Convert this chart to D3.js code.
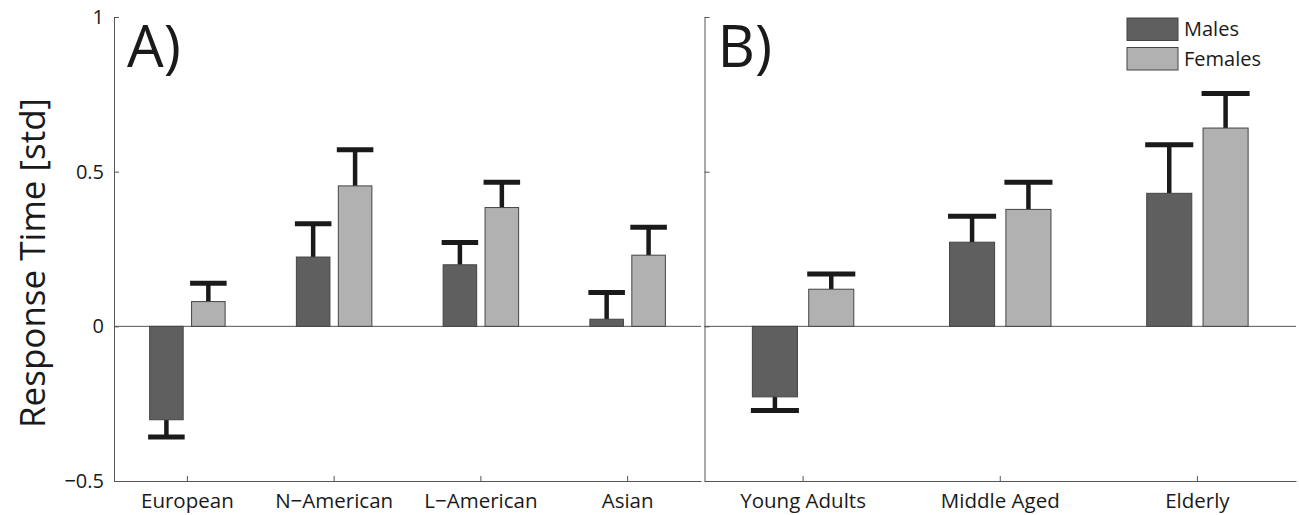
<!DOCTYPE html>
<html>
<head>
<meta charset="utf-8">
<script src="https://cdnjs.cloudflare.com/ajax/libs/d3/7.8.5/d3.min.js"></script>
<style>
  body { margin: 0; background: #fff; }
  svg text { font-family: "Open Sans", "Liberation Sans", Arial, sans-serif; fill: #1a1a1a; }
</style>
</head>
<body>
<div id="chart"></div>
<script>
// panel A: region of origin
const regions = ["European", "N\u2212American", "L\u2212American", "Asian"];
const regionMales = [-0.302, 0.224, 0.199, 0.023];
const regionFemales = [0.080, 0.454, 0.384, 0.230];
const regionMalesErr = [-0.358, 0.332, 0.271, 0.109];
const regionFemalesErr = [0.139, 0.571, 0.466, 0.320];

// panel B: age group
const ages = ["Young Adults", "Middle Aged", "Elderly"];
const ageMales = [-0.228, 0.272, 0.430];
const ageFemales = [0.120, 0.378, 0.641];
const ageMalesErr = [-0.272, 0.356, 0.587];
const ageFemalesErr = [0.169, 0.466, 0.753];

const yTicks = [-0.5, 0, 0.5, 1];
const seriesNames = ["Males", "Females"];
const seriesColors = ["#5f5f5f", "#b1b1b1"];

const width = 1299, height = 515;
const svg = d3.select("#chart").append("svg")
    .attr("width", width)
    .attr("height", height);

const y = d3.scaleLinear().domain([-0.5, 1]).range([481, 17]);

function drawPanel(cats, males, females, malesErr, femalesErr, x0, x1, letter, showLabels) {
  const x = d3.scaleBand().domain(cats).range([x0, x1]).padding(0);
  const step = x.bandwidth();
  const bw = step * 0.2286;
  const off = step * 0.1429;
  const g = svg.append("g");

  // zero line
  g.append("line")
      .attr("x1", x0).attr("x2", x1)
      .attr("y1", y(0)).attr("y2", y(0))
      .attr("stroke", "#555").attr("stroke-width", 1);

  const series = [
    {vals: males, errs: malesErr, shift: -off, color: seriesColors[0]},
    {vals: females, errs: femalesErr, shift: off, color: seriesColors[1]}
  ];

  series.forEach(s => {
    const cx = i => x(cats[i]) + step / 2 + s.shift;
    // error bars (one-sided, away from zero)
    g.selectAll(null).data(s.vals).enter().append("line")
        .attr("x1", (d, i) => cx(i)).attr("x2", (d, i) => cx(i))
        .attr("y1", d => y(d)).attr("y2", (d, i) => y(s.errs[i]))
        .attr("stroke", "#1a1a1a").attr("stroke-width", 4.5);
    g.selectAll(null).data(s.errs).enter().append("line")
        .attr("x1", (d, i) => cx(i) - bw / 2 - 1.5)
        .attr("x2", (d, i) => cx(i) + bw / 2 + 1.5)
        .attr("y1", d => y(d)).attr("y2", d => y(d))
        .attr("stroke", "#1a1a1a").attr("stroke-width", 5);
    g.selectAll(null).data(s.vals).enter().append("rect")
        .attr("x", (d, i) => cx(i) - bw / 2)
        .attr("y", d => y(Math.max(0, d)))
        .attr("width", bw)
        .attr("height", d => Math.abs(y(d) - y(0)))
        .attr("fill", s.color)
        .attr("stroke", "#444").attr("stroke-width", 1);
  });

  // axes with inward ticks
  const xAxis = g.append("g")
      .attr("transform", `translate(0,${y(-0.5)})`)
      .call(d3.axisBottom(x).tickSizeInner(-5).tickSizeOuter(0).tickPadding(12));
  xAxis.selectAll("text").style("font-size", "20.5px");

  const yAxis = g.append("g")
      .attr("transform", `translate(${x0},0)`)
      .call(d3.axisLeft(y).tickValues(yTicks).tickSizeInner(-5).tickSizeOuter(0).tickPadding(10)
        .tickFormat(showLabels ? d3.format("~g") : ""));
  yAxis.selectAll("text").style("font-size", "20px");

  [xAxis, yAxis].forEach(a => {
    a.select(".domain").attr("stroke", "#555");
    a.selectAll(".tick line").attr("stroke", "#555");
  });

  g.append("text")
      .attr("x", x0 + 13).attr("y", 67)
      .style("font-size", "58px")
      .text(letter);
}

drawPanel(regions, regionMales, regionFemales, regionMalesErr, regionFemalesErr, 114, 701, "A)", true);
drawPanel(ages, ageMales, ageFemales, ageMalesErr, ageFemalesErr, 704.5, 1296, "B)", false);

// y label
svg.append("text")
    .attr("transform", "translate(45,263) rotate(-90)")
    .attr("text-anchor", "middle")
    .style("font-size", "35px")
    .text("Response Time [std]");

// legend
const legend = svg.append("g").attr("transform", "translate(1127,18)");
seriesNames.forEach((name, i) => {
  legend.append("rect")
      .attr("x", 0).attr("y", i * 29.5)
      .attr("width", 51).attr("height", 22.5)
      .attr("fill", seriesColors[i])
      .attr("stroke", "#444").attr("stroke-width", 1);
  legend.append("text")
      .attr("x", 57).attr("y", i * 29.5 + 11.25)
      .attr("dy", "0.35em")
      .style("font-size", "20px")
      .text(name);
});
</script>
</body>
</html>
